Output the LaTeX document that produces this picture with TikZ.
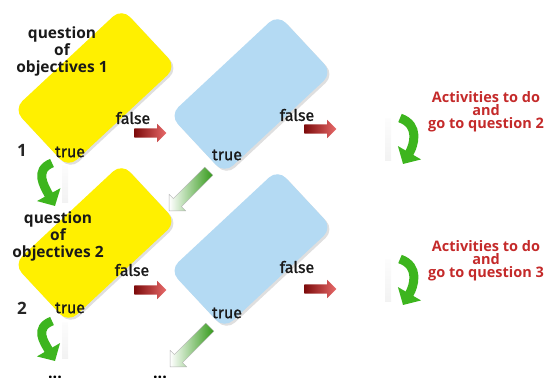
\documentclass[tikz,border=0pt]{standalone}
\usepackage{fontspec}
\setmainfont{Open Sans}
\newfontfamily\handfont[FakeBold=1.2]{Fira Sans}
\usetikzlibrary{shapes.arrows,shadows,arrows.meta}
\definecolor{boxyellow}{HTML}{FFF000}
\definecolor{boxblue}{HTML}{B4DAF3}
\definecolor{actred}{HTML}{C42A2A}
\definecolor{arrgreen}{HTML}{3DB51E}
\definecolor{darkred}{HTML}{7D0B0B}
\definecolor{lightred}{HTML}{E86A6A}
\begin{document}
\begin{tikzpicture}[x=1pt,y=-1pt,
  qbox/.style={rectangle, rounded corners=12pt, minimum width=148pt, minimum height=80pt, rotate=43,
    drop shadow={shadow xshift=2pt,shadow yshift=-2pt,opacity=0.25}},
  ybox/.style={qbox, fill=boxyellow},
  bbox/.style={qbox, fill=boxblue},
  qtext/.style={font=\bfseries\fontsize{15.5}{17}\selectfont, align=center, text=black!90},
  hand/.style={font=\handfont\fontsize{16}{16}\selectfont, text=black!90},
  numtext/.style={font=\bfseries\fontsize{17}{17}\selectfont, text=black!85},
  acttext/.style={font=\bfseries\fontsize{14.5}{13}\selectfont, align=center, text=actred},
  redarrow/.style={single arrow, minimum width=18pt, minimum height=32pt, single arrow head extend=4.5pt,
    inner sep=4.5pt, left color=darkred, right color=lightred},
  greenarrow/.style={single arrow, rotate=225, minimum width=23pt, minimum height=56pt,
    single arrow head extend=6pt, inner sep=5.5pt, left color=white, right color=arrgreen!85!black,
    draw=gray!60, thin},
  curvearrow/.style={line width=9pt, arrgreen, -{Triangle[length=13pt,width=26pt]}},
  reflect/.style={top color=gray!5, bottom color=gray!25, opacity=0.4},
  dots/.style={font=\bfseries\fontsize{16}{16}\selectfont, anchor=base}
]
\useasboundingbox (0,0) rectangle (556,377);

% boxes
\node[ybox] (y1) at (95,88) {};
\node[bbox] (b1) at (251,94) {};
\node[ybox] (y2) at (95,243) {};
\node[bbox] (b2) at (251,249) {};

% box texts
\node[qtext] (q1) at (62,51) {question\\of\\objectives 1};
\node[qtext] (q2) at (58,236) {question\\of\\objectives 2};
\node[numtext] (n1) at (22,150) {1};
\node[numtext] (n2) at (22,308) {2};

\node[hand] (f1) at (133,118) {false};
\node[hand] (t1) at (70,152) {true};
\node[hand] (f2) at (297,115) {false};
\node[hand] (t2) at (227,155) {true};
\node[hand] (f3) at (132,270) {false};
\node[hand] (t3) at (70,308) {true};
\node[hand] (f4) at (297,267) {false};
\node[hand] (t4) at (227,313) {true};

% red arrows
\node[redarrow] (r1) at (148,133) {};
\node[redarrow] (r2) at (318,129) {};
\node[redarrow] (r3) at (148,290) {};
\node[redarrow] (r4) at (318,289) {};

% green diagonal arrows
\node[greenarrow] (g1) at (191,189) {};
\node[greenarrow] (g2) at (192,345) {};

% reflections
\shade[reflect] (62,165) rectangle (68,202);
\shade[reflect] (62,322) rectangle (68,358);
\shade[reflect] (385,118) rectangle (391,160);
\shade[reflect] (385,259) rectangle (391,301);

% curved green arrows
\coordinate (c1s) at (52,163);
\coordinate (c1e) at (55,206);
\coordinate (c2s) at (52,321);
\coordinate (c2e) at (55,361);
\coordinate (c3s) at (400,118);
\coordinate (c3e) at (403,164);
\coordinate (c4s) at (400,259);
\coordinate (c4e) at (403,305);
\draw[curvearrow] (c1s) .. controls (34,170) and (44,186) .. (c1e);
\draw[curvearrow] (c2s) .. controls (34,328) and (44,342) .. (c2e);
\draw[curvearrow] (c3s) .. controls (420,125) and (414,145) .. (c3e);
\draw[curvearrow] (c4s) .. controls (420,266) and (414,286) .. (c4e);

% activity texts
\node[acttext] (a1) at (486,112) {Activities to do\\and\\go to question 2};
\node[acttext] (a2) at (486,261) {Activities to do\\and\\go to question 3};

% continuation dots
\node[dots] (d1) at (55,378) {...};
\node[dots] (d2) at (160,378) {...};
\end{tikzpicture}
\end{document}
